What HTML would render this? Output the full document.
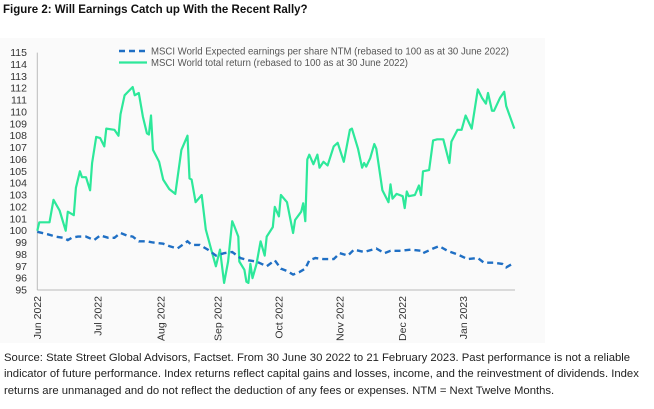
<!DOCTYPE html>
<html><head><meta charset="utf-8"><style>
html,body{margin:0;padding:0;background:#fff;width:654px;height:409px;overflow:hidden}
body{font-family:"Liberation Sans",sans-serif;position:relative}
#title{position:absolute;left:3px;top:4px;font-size:11.5px;font-weight:bold;color:#111}
#source{position:absolute;left:4px;top:350px;width:650px;font-size:11.3px;line-height:16.3px;color:#222}
svg{position:absolute;left:0;top:0}
</style></head><body>
<div id="title">Figure 2: Will Earnings Catch up With the Recent Rally?</div>
<svg id="chart" width="654" height="409"></svg>
<div id="source">Source: State Street Global Advisors, Factset. From 30 June 30 2022 to 21 February 2023. Past performance is not a reliable indicator of future performance. Index returns reflect capital gains and losses, income, and the reinvestment of dividends. Index returns are unmanaged and do not reflect the deduction of any fees or expenses. NTM = Next Twelve Months.</div>
<script>
const yTicks=[95,96,97,98,99,100,101,102,103,104,105,106,107,108,109,110,111,112,113,114,115];
const monthLabels=["Jun 2022","Jul 2022","Aug 2022","Sep 2022","Oct 2022","Nov 2022","Dec 2022","Jan 2023"];
const monthDays=[0,30,61,89,119,149,180,210];
const returnDays=[0,1,6,8,11,14,15,18,19,21,22,24,26,27,29,31,33,34,38,40,41,43,47,48,50,52,54,55,56,57,60,62,65,68,71,74,75,76,78,81,83,86,88,90,92,94,96,97,99,99.5,102,103,104,105,106,108,110,112,113,116,117,119,120,123,126,127,130,131,132,133,134,136,138,139,141,143,146,148,151,154,155,158,160,161,162,164,166,167,170,173,174,175,177,180,181,182,183,186,188,189,190,193,195,197,200,203,204,207,209,211,214,217,219,221,222,224,225,228,230,231,235];
const returnVals=[100.0,100.7,100.7,102.6,101.7,100.0,101.6,101.3,103.6,105.0,104.5,104.5,103.4,105.7,107.9,107.8,107.1,108.6,108.5,108.0,109.8,111.4,112.1,111.4,111.6,109.6,108.2,108.1,109.7,106.8,105.8,104.3,103.5,103.1,106.8,108.0,104.4,104.3,102.4,103.0,100.1,98.2,97.0,98.4,95.6,97.4,100.8,100.4,99.5,97.4,96.7,95.7,95.6,97.2,96.0,97.2,99.1,97.9,99.5,100.3,102.0,101.2,103.0,102.4,99.8,100.9,101.6,102.3,100.8,106.0,106.4,105.6,106.4,105.3,105.8,105.5,107.1,107.4,105.8,108.5,108.6,106.9,105.3,105.7,105.4,106.1,107.3,106.9,103.4,102.4,103.9,102.7,103.1,102.9,101.9,103.3,102.9,103.0,103.8,103.0,105.0,105.1,107.6,107.7,107.7,105.7,107.5,108.5,108.5,109.7,108.6,111.9,111.2,110.7,111.6,110.1,110.1,111.2,111.7,110.5,108.6];
const epsDays=[0,5,9,13,15,17,20,24,28,31,35,38,41,44,47,50,54,57,62,65,69,74,76,80,84,88,92,96,100,104,108,113,117,120,123,126,129,132,134,137,141,146,149,153,156,161,167,171,174,179,184,189,190,195,198,202,207,212,217,220,225,229,231,235];
const epsVals=[99.9,99.7,99.5,99.4,99.2,99.4,99.5,99.5,99.2,99.6,99.4,99.4,99.8,99.6,99.5,99.1,99.1,99.0,98.9,98.7,98.5,99.1,98.8,98.8,98.4,97.9,98.1,98.2,97.7,97.5,97.4,97.0,97.5,96.8,96.6,96.3,96.5,96.8,97.5,97.7,97.6,97.6,98.1,97.9,98.4,98.2,98.5,98.1,98.3,98.3,98.4,98.3,98.1,98.5,98.7,98.3,98.0,97.6,97.7,97.3,97.3,97.2,96.9,97.3];

const NS="http://www.w3.org/2000/svg";
const svg=document.getElementById('chart');
const X0=37.3, PXD=2.03, Y0=290, PXU=11.87;
const xs=d=>X0+d*PXD;
const ys=v=>Y0-(v-95)*PXU;
function el(t,a){const e=document.createElementNS(NS,t);for(const k in a)e.setAttribute(k,a[k]);svg.appendChild(e);return e;}

const bg=el('rect',{x:0,y:38,width:545,height:305,fill:'#fafafa'});



yTicks.forEach(v=>{
  const t=el('text',{x:27,y:ys(v)+3.5,'text-anchor':'end','font-size':'10.5',fill:'#333'});
  t.textContent=v;
  
  
});
const ya=el('line',{x1:X0,y1:ys(115),x2:X0,y2:Y0,stroke:'#bbb','stroke-width':1});


const xa=el('line',{x1:X0,y1:Y0,x2:515,y2:Y0,stroke:'#bbb','stroke-width':1});



monthLabels.forEach((m,i)=>{
  const x=xs(monthDays[i])+3.5, y=296;
  const t=el('text',{x:x,y:y,'text-anchor':'end','font-size':'10.5',fill:'#333',transform:`rotate(-90 ${x} ${y})`});
  t.textContent=m;
  
  
});

function path(days,vals){return days.map((d,i)=>(i?'L':'M')+xs(d).toFixed(1)+' '+ys(vals[i]).toFixed(1)).join(' ');}
const g=el('path',{d:path(returnDays,returnVals),fill:'none',stroke:'#2de89a','stroke-width':2.2,'stroke-linejoin':'round'});


const b=el('path',{d:path(epsDays,epsVals),fill:'none',stroke:'#1f6fc4','stroke-width':2.4,'stroke-dasharray':'6 4'});



const l1=el('line',{x1:119,y1:51,x2:147,y2:51,stroke:'#1f6fc4','stroke-width':2.4,'stroke-dasharray':'6 4'});


const t1=el('text',{x:151,y:54.5,'font-size':'10.5',fill:'#555',textLength:358,lengthAdjust:'spacingAndGlyphs'});
t1.textContent='MSCI World Expected earnings per share NTM (rebased to 100 as at 30 June 2022)';


const l2=el('line',{x1:119,y1:62.5,x2:147,y2:62.5,stroke:'#2de89a','stroke-width':2.2});


const t2=el('text',{x:151,y:66,'font-size':'10.5',fill:'#555',textLength:257,lengthAdjust:'spacingAndGlyphs'});
t2.textContent='MSCI World total return (rebased to 100 as at 30 June 2022)';


</script>
</body></html>
